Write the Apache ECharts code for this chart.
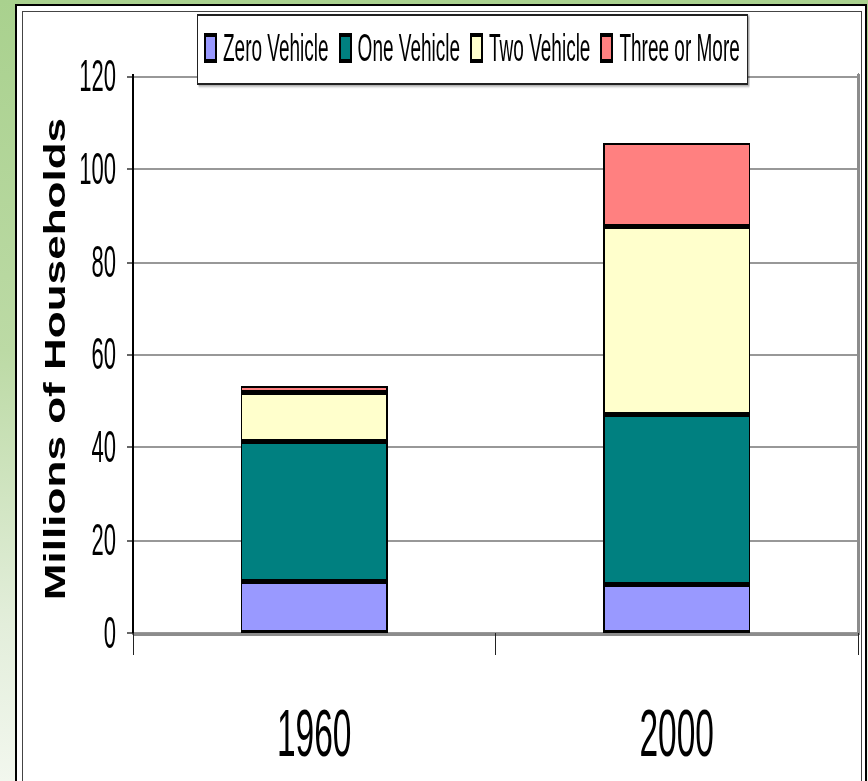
<!DOCTYPE html>
<html>
<head>
<meta charset="utf-8">
<script src="https://cdn.jsdelivr.net/npm/echarts@6/dist/echarts.min.js"></script>
<style>
  html, body { margin: 0; padding: 0; }
  body {
    width: 868px; height: 781px; overflow: hidden; position: relative;
    background: linear-gradient(180deg, #a9d18e 0%, #bcdaa5 45%, #e3eedb 80%, #f2f7ee 100%);
  }
  #panel {
    position: absolute; left: 15px; top: 4px; width: 848px; height: 800px;
    background: #ffffff; border: 2.5px solid #000;
  }
  #inner {
    position: absolute; left: 22px; top: 11px; width: 838px; height: 800px;
    border-left: 1px solid #444; border-top: 1px solid #444; border-right: 1px solid #444;
  }
  /* The chart is laid out at half height and stretched vertically to full size */
  #chart {
    position: absolute; left: 0; top: 0; width: 868px; height: 390.5px;
    transform: scaleY(2); transform-origin: 0 0;
  }
  /* keep stacked segment outlines solid where they meet */
  #chart svg path { shape-rendering: crispEdges; }
</style>
</head>
<body>
<div id="panel"></div>
<div id="inner"></div>
<div id="chart"></div>
<script>
// Households by number of vehicles available (millions)
const categories = ['1960', '2000'];
const seriesNames = ['Zero Vehicle', 'One Vehicle', 'Two Vehicle', 'Three or More'];
const zeroVehicle = [11.0, 10.4];
const oneVehicle = [30.2, 36.6];
const twoVehicle = [10.5, 40.5];
const threeOrMore = [1.5, 18.1];
const seriesColors = ['#9999ff', '#008080', '#ffffcc', '#ff8080'];
const yMin = 0, yMax = 120, yStep = 20;
const yTitle = 'Millions of Households';

const FONT = '"Liberation Sans", Arial, sans-serif';

const chart = echarts.init(document.getElementById('chart'), null, {
  renderer: 'svg', width: 868, height: 390.5
});

const values = [zeroVehicle, oneVehicle, twoVehicle, threeOrMore];

chart.setOption({
  animation: false,
  textStyle: { fontFamily: FONT },
  grid: { left: 133, right: 10, top: 38, bottom: 74.25, containLabel: false },
  legend: {
    data: seriesNames,
    left: 197, top: 7.5,
    padding: [7, 8, 8.5, 7],
    itemWidth: 11, itemHeight: 13, itemGap: 10,
    icon: 'rect',
    backgroundColor: '#ffffff',
    borderColor: '#222', borderWidth: 1,
    shadowColor: 'rgba(0,0,0,0.35)', shadowBlur: 1, shadowOffsetX: 1.5, shadowOffsetY: 0.8,
    itemStyle: { borderColor: '#000', borderWidth: 2 },
    textStyle: { fontSize: 19, color: '#000', fontFamily: FONT, padding: [0, 0, 0, 2] }
  },
  xAxis: [{
    type: 'category',
    data: categories,
    axisLine: { lineStyle: { color: '#000', width: 1.3, shadowColor: 'rgba(0,0,0,0.4)', shadowOffsetY: 0.8 } },
    axisTick: { show: true, length: 11, interval: 0, lineStyle: { color: '#222', width: 1 } },
    axisLabel: { fontSize: 33.5, color: '#000', margin: 33, fontFamily: FONT }
  }, {
    type: 'category',
    data: categories,
    position: 'top',
    axisLine: { lineStyle: { color: '#8c8c8c', width: 1.5 } },
    axisTick: { show: false },
    axisLabel: { show: false }
  }],
  yAxis: [{
    type: 'value',
    min: yMin, max: yMax, interval: yStep,
    axisLine: { show: true, lineStyle: { color: '#000', width: 2 } },
    axisTick: { show: true, length: 6, lineStyle: { color: '#000', width: 0.6 } },
    axisLabel: { fontSize: 22, color: '#000', margin: 17, fontFamily: FONT },
    splitLine: { show: true, lineStyle: { color: '#333', width: 0.6 } }
  }, {
    type: 'value',
    min: yMin, max: yMax, interval: yStep,
    position: 'right',
    axisLine: { show: true, lineStyle: { color: '#8c8c8c', width: 3 } },
    axisTick: { show: false },
    axisLabel: { show: false },
    splitLine: { show: false }
  }],
  graphic: [{
    type: 'text',
    x: 55, y: 179.5,
    rotation: Math.PI / 2,
    scaleX: 0.76,
    style: {
      text: yTitle,
      fontSize: 29, fontWeight: 'bold', fontFamily: FONT,
      fill: '#000',
      align: 'center', verticalAlign: 'middle',
      textAlign: 'center', textVerticalAlign: 'middle'
    }
  }],
  series: seriesNames.map((name, i) => ({
    name: name,
    type: 'bar',
    stack: 'households',
    barWidth: 147,
    data: values[i],
    itemStyle: { color: seriesColors[i], borderColor: '#000', borderWidth: 1.3 }
  }))
});
</script>
</body>
</html>
